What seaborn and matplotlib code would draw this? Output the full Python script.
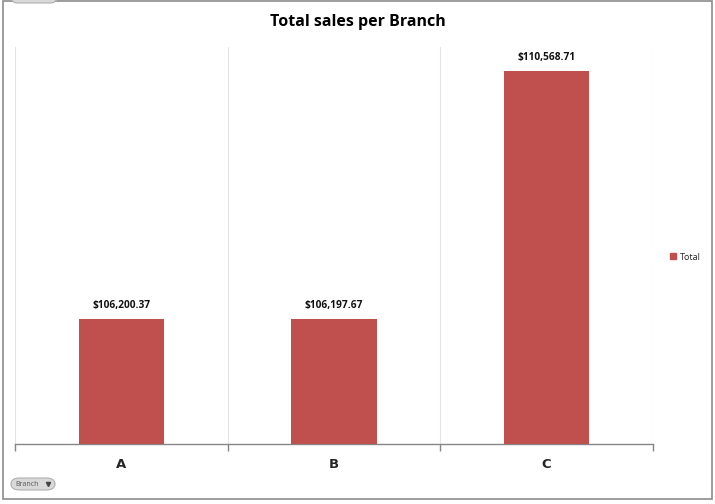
import matplotlib
matplotlib.use("Agg")
import matplotlib.pyplot as plt
import seaborn as sns
import pandas as pd
from matplotlib.patches import Rectangle, FancyBboxPatch
from matplotlib.lines import Line2D

branches = ["A", "B", "C"]
totals = [106200.37, 106197.67, 110568.71]
labels = ["$106,200.37", "$106,197.67", "$110,568.71"]
title = "Total sales per Branch"
legend_label = "Total"
y_min, y_max = 104000, 111000

sns.set_theme(style="white")
plt.rcParams["font.family"] = ["Open Sans", "DejaVu Sans"]

W, H = 715, 504
fig = plt.figure(figsize=(W / 100, H / 100), dpi=100)
fig.patch.set_facecolor("white")

ax = fig.add_axes([15 / W, (H - 444) / H, (653 - 15) / W, (444 - 47) / H])
df = pd.DataFrame({"Branch": branches, "Total": totals})
sns.barplot(data=df, x="Branch", y="Total", color="#C0504D", width=0.4,
            saturation=1, linewidth=0, ax=ax, zorder=3)
ax.set_ylim(y_min, y_max)
ax.set_xlim(-0.5, len(branches) - 0.5)

for i, (v, lab) in enumerate(zip(totals, labels)):
    ax.annotate(lab, (i, v), xytext=(0, 6), textcoords="offset points",
                ha="center", va="bottom", fontsize=7.3, fontweight="bold",
                color="#111111")

# vertical gridlines at category boundaries
bounds = [i - 0.5 for i in range(len(branches) + 1)]
for b in bounds:
    ax.axvline(b, color="#E3E3E3", lw=0.8, zorder=1)

for s in ["top", "right", "left"]:
    ax.spines[s].set_visible(False)
ax.spines["bottom"].set_color("#868686")
ax.spines["bottom"].set_linewidth(1.0)
ax.set_yticks([])
ax.set_xticks(range(len(branches)))
ax.set_xticklabels(branches, fontweight="heavy", fontsize=9.5,
                   family=["DejaVu Sans"])
ax.set_xticks(bounds, minor=True)
ax.tick_params(axis="x", which="major", length=0, pad=10)
ax.tick_params(axis="x", which="minor", length=5, width=1.0,
               color="#868686", bottom=True)
ax.set_xlabel("")
ax.set_ylabel("")

fig.text(358 / W, 1 - 22 / H, title, ha="center", va="center",
         fontsize=11.5, fontweight="bold", color="black")

# legend
ax_leg_handle = Rectangle((0, 0), 1, 1, color="#C0504D")
fig.legend([ax_leg_handle], [legend_label], loc="center left",
           bbox_to_anchor=(662 / W, 1 - 257 / H), frameon=False,
           fontsize=6.5, handlelength=0.6, handleheight=0.6,
           handletextpad=0.5)

# outer chart frame
fig.add_artist(Rectangle((3 / W, 1 - 499 / H), (712 - 3) / W, (499 - 1) / H,
                         transform=fig.transFigure, fill=False,
                         edgecolor="#8C8C8C", lw=1.2))

# field buttons
btn = FancyBboxPatch((11 / W, 1 - 490 / H), 44 / W, 12 / H,
                     boxstyle="round,pad=0,rounding_size=0.012",
                     transform=fig.transFigure, facecolor="#D9D9D9",
                     edgecolor="#B0B0B0", lw=0.8)
fig.add_artist(btn)
fig.text(15 / W, 1 - 484.5 / H, "Branch", fontsize=5, color="#555555",
         va="center", ha="left")
fig.add_artist(Line2D([48 / W], [1 - 484 / H], marker="v", markersize=3,
                      color="#444444", transform=fig.transFigure))
btn2 = FancyBboxPatch((12 / W, 1 - 3 / H), 44 / W, 6 / H,
                      boxstyle="round,pad=0,rounding_size=0.008",
                      transform=fig.transFigure, facecolor="#D9D9D9",
                      edgecolor="#B0B0B0", lw=0.8)
fig.add_artist(btn2)

fig.savefig("out.png", dpi=100, facecolor="white")
